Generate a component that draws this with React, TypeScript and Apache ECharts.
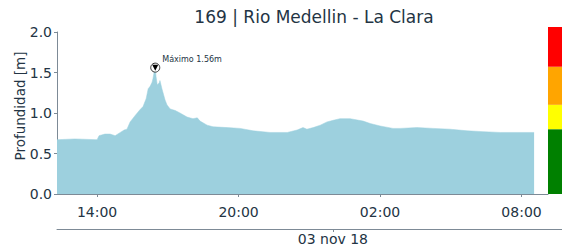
import React, { useEffect, useRef } from "react";
import * as echarts from "echarts";

const titleText = "169 | Rio Medellin - La Clara";
const yAxisName = "Profundidad [m]";
const dateLabel = "03 nov 18";

// Sample times (2018-11-02 / 2018-11-03) and water depth [m]
const times = [
  "11-02 12:18", "11-02 13:04", "11-02 14:00", "11-02 14:05", "11-02 14:20", "11-02 14:33",
  "11-02 14:46", "11-02 14:59", "11-02 15:09", "11-02 15:16", "11-02 15:24", "11-02 15:37",
  "11-02 15:49", "11-02 15:57", "11-02 16:05", "11-02 16:10", "11-02 16:15", "11-02 16:20",
  "11-02 16:22", "11-02 16:25", "11-02 16:28", "11-02 16:30", "11-02 16:33", "11-02 16:38",
  "11-02 16:40", "11-02 16:45", "11-02 16:53", "11-02 16:58", "11-02 17:06", "11-02 17:19",
  "11-02 17:31", "11-02 17:49", "11-02 18:04", "11-02 18:15", "11-02 18:22", "11-02 18:40",
  "11-02 18:55", "11-02 19:31", "11-02 20:04", "11-02 20:37", "11-02 21:20", "11-02 22:04",
  "11-02 22:29", "11-02 22:44", "11-02 22:54", "11-02 23:10", "11-02 23:28", "11-02 23:45",
  "11-03 00:01", "11-03 00:18", "11-03 00:44", "11-03 01:17", "11-03 01:35", "11-03 02:00",
  "11-03 02:33", "11-03 02:51", "11-03 03:34", "11-03 04:15", "11-03 04:58", "11-03 05:42",
  "11-03 06:22", "11-03 07:06", "11-03 07:49", "11-03 08:32",
];
const depths = [
  0.67, 0.68, 0.67, 0.72, 0.74, 0.74,
  0.72, 0.76, 0.79, 0.80, 0.89, 0.97,
  1.04, 1.08, 1.18, 1.30, 1.33, 1.38,
  1.42, 1.50, 1.56, 1.45, 1.35, 1.37,
  1.40, 1.30, 1.16, 1.10, 1.05, 1.03,
  1.00, 0.95, 0.93, 0.94, 0.90, 0.85,
  0.83, 0.82, 0.81, 0.78, 0.76, 0.76,
  0.79, 0.82, 0.80, 0.82, 0.85, 0.89,
  0.91, 0.93, 0.93, 0.90, 0.87, 0.84,
  0.81, 0.81, 0.82, 0.81, 0.80, 0.78,
  0.77, 0.76, 0.76, 0.76,
];

const yTicks = [0, 0.5, 1.0, 1.5, 2.0];
const hourTicks = [14, 20, 26, 32]; // hours since 2018-11-02 00:00
const dateTicks = [24];

// Alert level bands (upper limits, m) and their colors
const levelLimits = [0.8, 1.1, 1.57, 2.06];
const levelColors = ["#008000", "#ffff00", "#ffa500", "#ff0000"];

const FONT = "DejaVu Sans";
const TEXT = "#233444";
const AXIS = "#7d8a96";
const FILL = "#9dd0de";

const X_MIN = 12.3;
const PX_PER_H = 23.58;

function toHours(s: string): number {
  const [md, hm] = s.split(" ");
  const day = parseInt(md.split("-")[1], 10);
  const [h, m] = hm.split(":").map((v) => parseInt(v, 10));
  return (day - 2) * 24 + h + m / 60;
}

export default function App() {
  const ref = useRef<HTMLDivElement>(null);
  useEffect(() => {
    if (!ref.current) return;
    const chart = echarts.init(ref.current, null, { renderer: "svg" });
    const data = times.map((t, i) => [toHours(t), depths[i]]);
    let pk = 0;
    depths.forEach((d, i) => {
      if (d > depths[pk]) pk = i;
    });
    const peak = data[pk];
    const bands = levelLimits.map((l, i) => +(l - (i ? levelLimits[i - 1] : 0)).toFixed(3));

    const mainW = 491;
    const dateW = 505;

    chart.setOption({
      animation: false,
      textStyle: { fontFamily: FONT },
      graphic: [
        {
          type: "text",
          x: 314,
          y: 17,
          style: {
            text: titleText,
            fontFamily: FONT,
            fontSize: 17,
            fill: TEXT,
            textAlign: "center",
            textVerticalAlign: "middle",
          },
        },
        {
          type: "text",
          x: 20,
          y: 106,
          rotation: Math.PI / 2,
          style: {
            text: yAxisName,
            fontFamily: FONT,
            fontSize: 13.5,
            fill: TEXT,
            textAlign: "center",
            textVerticalAlign: "middle",
          },
        },
      ],
      grid: [
        { left: 57, top: 32, width: mainW, height: 162 },
        { left: 57, top: 229, width: dateW, height: 0 },
        { left: 548, top: 27, width: 14, height: 167 },
      ],
      xAxis: [
        {
          type: "value",
          gridIndex: 0,
          min: X_MIN,
          max: X_MIN + mainW / PX_PER_H,
          splitLine: { show: false },
          axisLine: { show: true, lineStyle: { color: AXIS, width: 1 } },
          axisTick: { show: true, length: 3, lineStyle: { color: AXIS }, customValues: hourTicks },
          axisLabel: {
            customValues: hourTicks,
            color: TEXT,
            fontSize: 14,
            fontFamily: FONT,
            margin: 11,
            formatter: (v: number) => String(Math.round(v) % 24).padStart(2, "0") + ":00",
          },
        },
        {
          type: "value",
          gridIndex: 1,
          min: X_MIN,
          max: X_MIN + dateW / PX_PER_H,
          splitLine: { show: false },
          axisLine: { show: true, onZero: false, lineStyle: { color: AXIS, width: 1 } },
          axisTick: { show: true, length: 3, lineStyle: { color: AXIS }, customValues: dateTicks },
          axisLabel: {
            customValues: dateTicks,
            color: TEXT,
            fontSize: 14,
            fontFamily: FONT,
            margin: 3,
            formatter: () => dateLabel,
          },
        },
        {
          type: "category",
          gridIndex: 2,
          data: [""],
          show: false,
        },
      ],
      yAxis: [
        {
          type: "value",
          gridIndex: 0,
          min: 0,
          max: 2,
          interval: 0.5,
          splitLine: { show: false },
          axisLine: { show: true, lineStyle: { color: AXIS, width: 1 } },
          axisTick: { show: true, length: 3, lineStyle: { color: AXIS }, customValues: yTicks },
          axisLabel: {
            color: TEXT,
            fontSize: 14,
            fontFamily: FONT,
            margin: 5,
            formatter: (v: number) => v.toFixed(1),
          },
        },
        { type: "value", gridIndex: 1, show: false },
        { type: "value", gridIndex: 2, min: 0, max: levelLimits[levelLimits.length - 1], show: false },
      ],
      series: [
        {
          type: "line",
          xAxisIndex: 0,
          yAxisIndex: 0,
          data,
          showSymbol: false,
          symbol: "none",
          lineStyle: { width: 0.5, color: FILL },
          itemStyle: { color: FILL },
          areaStyle: { color: FILL, opacity: 1 },
          markPoint: {
            silent: true,
            data: [
              {
                coord: peak,
                symbol: "circle",
                symbolSize: 9,
                itemStyle: { color: "#ffffff", borderColor: "#333333", borderWidth: 1 },
                label: {
                  show: true,
                  formatter: "Máximo " + peak[1].toFixed(2) + "m",
                  position: "right",
                  offset: [-3, -8],
                  color: TEXT,
                  fontSize: 8,
                  fontFamily: FONT,
                },
              },
              {
                coord: peak,
                symbol: "triangle",
                symbolRotate: 180,
                symbolSize: 6,
                itemStyle: { color: "#000000" },
                label: { show: false },
              },
            ],
          },
        },
        ...levelColors.map((c, i) => ({
          type: "bar",
          xAxisIndex: 2,
          yAxisIndex: 2,
          stack: "levels",
          barWidth: "100%",
          data: [bands[i]],
          itemStyle: { color: c },
          silent: true,
        })),
      ],
    });
    return () => chart.dispose();
  }, []);
  return (
    <div
      ref={ref}
      style={{ position: "absolute", left: 0, top: 0, width: 562, height: 252 }}
    />
  );
}
